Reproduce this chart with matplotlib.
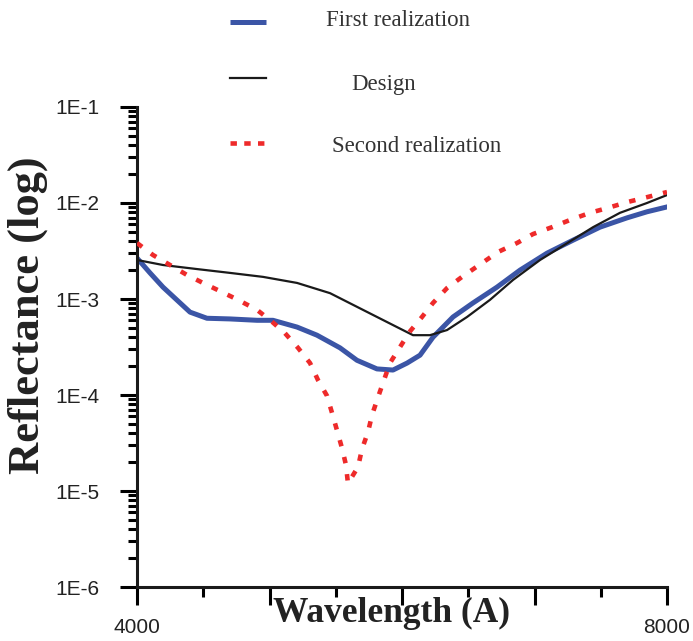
import numpy as np
import matplotlib.pyplot as plt
from matplotlib.lines import Line2D
from matplotlib.ticker import FixedLocator, FixedFormatter, LogLocator, NullFormatter

# Design (black)
wl_design = [4000, 4196, 4453, 4702, 4951, 5208, 5457, 5706, 5962, 6083, 6211,
             6340, 6491, 6664, 6838, 7042, 7245, 7442, 7645, 7849, 8000]
r_design = [2.55e-3, 2.26e-3, 2.05e-3, 1.87e-3, 1.70e-3, 1.47e-3, 1.15e-3, 7.7e-4,
            5.1e-4, 4.2e-4, 4.2e-4, 4.75e-4, 6.5e-4, 9.8e-4, 1.58e-3, 2.55e-3,
            3.8e-3, 5.6e-3, 7.9e-3, 1.0e-2, 1.21e-2]

# First realization (blue)
wl_first = [4000, 4098, 4196, 4325, 4400, 4528, 4702, 4906, 5026, 5208, 5358, 5532,
            5660, 5811, 5932, 6038, 6136, 6234, 6385, 6536, 6717, 6891, 7094, 7291,
            7494, 7698, 7849, 8000]
r_first = [2.67e-3, 1.87e-3, 1.33e-3, 9.1e-4, 7.3e-4, 6.3e-4, 6.2e-4, 6.0e-4, 6.0e-4,
           5.1e-4, 4.2e-4, 3.1e-4, 2.3e-4, 1.87e-4, 1.82e-4, 2.15e-4, 2.6e-4, 4.0e-4,
           6.5e-4, 9.1e-4, 1.33e-3, 2.0e-3, 3.0e-3, 4.1e-3, 5.6e-3, 7.0e-3, 8.1e-3, 9.1e-3]

# Second realization (red dotted)
wl_second = [4000, 4121, 4249, 4377, 4498, 4642, 4762, 4906, 5019, 5117, 5215, 5306,
             5366, 5434, 5472, 5509, 5547, 5577, 5592, 5668, 5698, 5743, 5774, 5819,
             5864, 5909, 5985, 6060, 6151, 6234, 6340, 6453, 6604, 6725, 6868, 6989,
             7132, 7268, 7419, 7555, 7698, 7849, 8000]
r_second = [3.83e-3, 2.87e-3, 2.26e-3, 1.78e-3, 1.47e-3, 1.18e-3, 9.8e-4, 7.7e-4, 5.8e-4,
            4.4e-4, 3.1e-4, 2.15e-4, 1.43e-4, 9.8e-5, 6.5e-5, 4.3e-5, 2.8e-5, 1.87e-5,
            1.2e-5, 1.78e-5, 2.74e-5, 4.1e-5, 6.2e-5, 9.5e-5, 1.43e-4, 2.15e-4, 3.16e-4,
            4.6e-4, 6.5e-4, 9.1e-4, 1.30e-3, 1.70e-3, 2.37e-3, 3.09e-3, 3.83e-3, 4.75e-3,
            5.6e-3, 6.65e-3, 7.9e-3, 8.9e-3, 1.02e-2, 1.15e-2, 1.30e-2]

labels = ["First realization", "Design", "Second realization"]
ytick_vals = [1e-6, 1e-5, 1e-4, 1e-3, 1e-2, 1e-1]
ytick_labels = ["1E-6", "1E-5", "1E-4", "1E-3", "1E-2", "1E-1"]
xtick_vals = [4000, 5000, 6000, 7000, 8000]
xtick_labels = ["4000", "", "", "", "8000"]

blue = "#3b55a6"
red = "#ee2a2a"
black = "#1a1a1a"

fig = plt.figure(figsize=(6.93, 6.41), dpi=100)
ax = fig.add_axes([0.1977, 0.0842, 0.7648, 0.7489])

ax.plot(wl_design, r_design, color=black, lw=1.6, zorder=3)
ax.plot(wl_first, r_first, color=blue, lw=3.6, zorder=2)
ax.plot(wl_second, r_second, color=red, lw=3.3, linestyle=(0, (1.4, 2.4)), zorder=4)

ax.set_yscale("log")
ax.set_xlim(4000, 8000)
ax.set_ylim(1e-6, 1e-1)

ax.yaxis.set_major_locator(FixedLocator(ytick_vals))
ax.yaxis.set_major_formatter(FixedFormatter(ytick_labels))
ax.yaxis.set_minor_locator(LogLocator(base=10, subs=np.arange(2, 10)))
ax.yaxis.set_minor_formatter(NullFormatter())

ax.xaxis.set_major_locator(FixedLocator(xtick_vals))
ax.xaxis.set_major_formatter(FixedFormatter(xtick_labels))
ax.xaxis.set_minor_locator(FixedLocator([4500, 5500, 6500, 7500]))

for s in ["top", "right"]:
    ax.spines[s].set_visible(False)
for s in ["left", "bottom"]:
    ax.spines[s].set_linewidth(2.2)
    ax.spines[s].set_color("#1a1a1a")

ax.tick_params(axis="y", which="major", length=12, width=2.2, pad=15,
               labelsize=15, labelcolor="#222222")
ax.tick_params(axis="y", which="minor", length=6.5, width=2.2)
ax.tick_params(axis="x", which="major", length=13, width=2.2, pad=9,
               labelsize=15, labelcolor="#222222")
ax.tick_params(axis="x", which="minor", length=7, width=2.2)
for t in ax.get_yticklabels() + ax.get_xticklabels():
    t.set_family("Liberation Sans")

ax.set_ylabel("Reflectance (log)", family="Liberation Serif", fontweight="bold",
              fontsize=32, color="#222222")
ax.yaxis.set_label_coords(-0.168, 0.567)
ax.set_xlabel("Wavelength (A)", family="Liberation Serif", fontweight="bold",
              fontsize=25.5, color="#222222")
ax.xaxis.set_label_coords(0.481, -0.021)

# legend drawn above the axes
leg_y = [1 - 21.5 / 641, 1 - 78 / 641, 1 - 143 / 641]
leg_text_y = [1 - 20 / 641, 1 - 84.5 / 641, 1 - 146.5 / 641]
leg_text_x = [326 / 693, 351 / 693, 332 / 693]
leg_styles = [dict(color=blue, lw=3.6, solid_capstyle="butt"),
              dict(color=black, lw=1.6),
              dict(color=red, lw=3.3, linestyle=(0, (1.4, 1.6)))]
for y, ty, tx, lab, st in zip(leg_y, leg_text_y, leg_text_x, labels, leg_styles):
    fig.add_artist(Line2D([230 / 693, 266 / 693], [y, y], transform=fig.transFigure, **st))
    fig.text(tx, ty, lab, family="Liberation Serif", fontsize=16.5,
             color="#333333", va="center", ha="left")

fig.savefig("out.png", dpi=100)
